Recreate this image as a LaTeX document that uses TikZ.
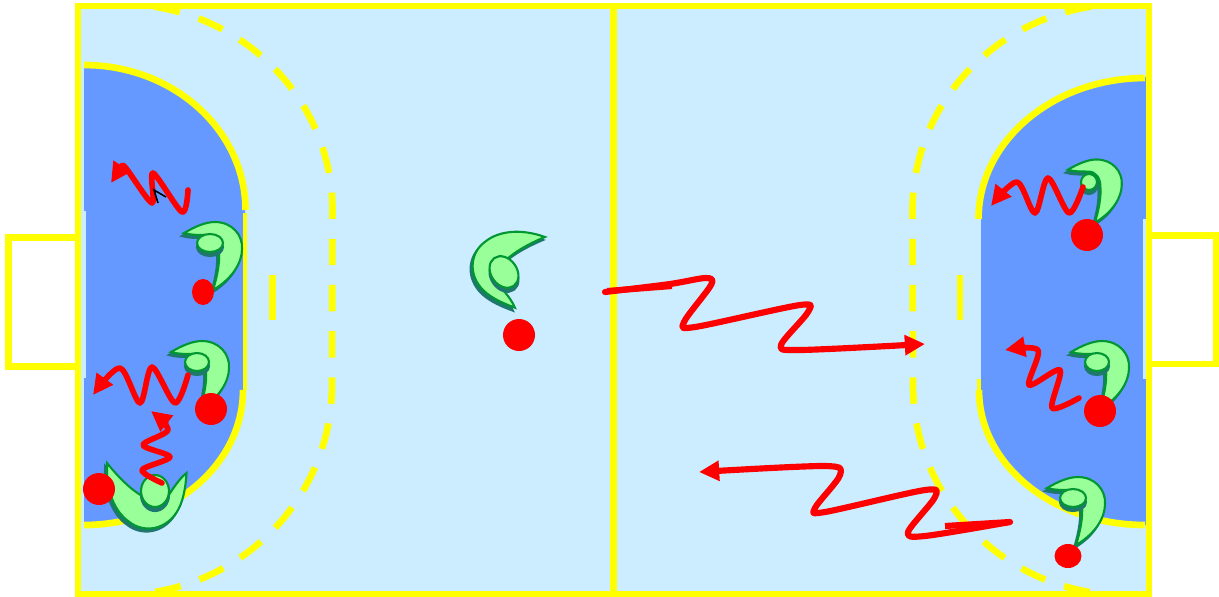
\documentclass[tikz,border=0pt]{standalone}
\definecolor{courtyellow}{RGB}{255,255,0}
\definecolor{courtlight}{RGB}{204,236,255}
\definecolor{courtblue}{RGB}{102,153,255}
\definecolor{playerlight}{RGB}{153,255,153}
\definecolor{playerline}{RGB}{0,150,50}
\definecolor{playershade}{RGB}{30,120,110}
\definecolor{ballred}{RGB}{255,0,0}
\usetikzlibrary{arrows.meta}
\tikzset{
  courtline/.style={draw=courtyellow,line width=3.8pt},
  thinline/.style={draw=courtyellow,line width=2.6pt},
  dashline/.style={draw=courtyellow,line width=3.8pt,dash pattern=on 15pt off 11.3pt,dash phase=24pt},
  pass/.style={draw=ballred,line width=#1,line cap=round,line join=round,
               -{Triangle[length=11.5pt,width=11pt]}},
  pass/.default=3.2pt,
  ball/.style={fill=ballred},
  shade/.style={fill=playershade,draw=playershade,line width=1.2pt},
  skin/.style={fill=playerlight,draw=playerline,line width=1.2pt},
}
\newcommand{\playerbody}{(-26,-10) .. controls (-14,-17) and (-4,-21) .. (5,-21)
  .. controls (22,-21) and (33,-8) .. (32,6) .. controls (32,20) and (22,36) .. (3,47)
  .. controls (7,34) and (10,20) .. (9,8) .. controls (9,-1) and (4,-8) .. (-4,-8)
  .. controls (-12,-8) and (-20,-8) .. (-26,-10) -- cycle}
\begin{document}
\begin{tikzpicture}[x=0.02cm,y=-0.02cm]
  \useasboundingbox (0,0) rectangle (1219,596);
  \fill[courtlight] (78,6) rectangle (1149,594);

  % goal areas
  \fill[courtblue] (84,65) arc[start angle=-90,end angle=0,x radius=161,y radius=145]
    -- (245,390) arc[start angle=0,end angle=90,x radius=161,y radius=135] -- cycle;
  \fill[courtlight] (81,211) rectangle (86,378);
  \fill[courtblue] (1146,77) arc[start angle=-90,end angle=-180,x radius=165,y radius=142]
    -- (981,390) arc[start angle=180,end angle=90,x radius=165,y radius=135] -- cycle;
  \fill[courtlight] (1143,219) rectangle (1146,379);

  \draw[courtline] (84,65) arc[start angle=-90,end angle=0,x radius=161.5,y radius=145];
  \draw[thinline] (245,213) -- (245,390);
  \draw[courtline] (243,390) arc[start angle=0,end angle=90,x radius=159,y radius=135];
  \draw[courtline] (1145,78) arc[start angle=-90,end angle=-180,x radius=166.5,y radius=141];
  \draw[thinline] (979,379) -- (979,390);
  \draw[courtline] (979,390) arc[start angle=180,end angle=90,x radius=166,y radius=135];

  % free throw lines
  \draw[dashline] (150,6) arc[start angle=-82,end angle=0,x radius=212,y radius=206]
    -- (332,385) arc[start angle=0,end angle=82,x radius=213,y radius=210];
  \draw[dashline] (1095,6) arc[start angle=-98,end angle=-180,x radius=212,y radius=206]
    -- (913,385) arc[start angle=180,end angle=98,x radius=212,y radius=210];
  \draw[courtline] (272.5,275) -- (272.5,320);
  \draw[courtline] (960,275) -- (960,320);

  % court and goals
  \draw[courtline] (78,6) rectangle (1149,594);
  \draw[courtline] (613.5,6) -- (613.5,594);
  \draw[courtline] (78,237.5) -- (8.5,237.5) -- (8.5,366.5) -- (78,366.5);
  \draw[courtline] (1149,235.5) -- (1216,235.5) -- (1216,364) -- (1149,364);

  % players
  \foreach \x/\y/\r/\s/\hx/\hy/\ha/\hb/\ht in {
      504/276/130/1.2/504/272/17/13/-55,
      210/243/0/1/210/243/13/9/0,
      197/362/0/1/197/362/12/9/0,
      158/493/-124/1.25/155/491/16/14/90,
      1092/179/0/0.93/1089/182/8/8/0,
      1097/362/0/1/1097/362/12/9/0,
      1073/498/0/1/1073/498/13/9/0}{
    \draw[shade,shift={(\x-2,\y+3)},rotate=\r,scale=\s] \playerbody;
    \draw[skin,shift={(\x,\y)},rotate=\r,scale=\s] \playerbody;
    \draw[shade,shift={(\hx,\hy+4)},rotate=\ht] (0,0) ellipse[x radius=\ha,y radius=\hb];
    \draw[skin,shift={(\hx,\hy)},rotate=\ht] (0,0) ellipse[x radius=\ha,y radius=\hb];
  }

  % balls
  \foreach \x/\y/\ra/\rb in {519/335/16/16, 203/292/11/13, 211/409/16/16, 99/489/16/16,
      1087/235/16/16, 1100/411/16/16, 1068/556/13.5/12}{
    \fill[ball] (\x,\y) ellipse[x radius=\ra,y radius=\rb];
  }

  % passes
  \draw[pass=3.5pt] plot[smooth,tension=0.5] coordinates {(605,292) (670,284) (706,278) (711,285)
    (684,322) (695,327) (800,305) (808,312) (781,345) (800,350) (925,344)};
  \draw[draw=ballred,line width=3.5pt] (607,291) -- (672,286);
  \draw[pass=3.5pt] plot[smooth,tension=0.5] coordinates {(1010,522) (925,536) (908,532) (935,497)
    (925,490) (825,512) (815,508) (840,475) (825,466) (699,472)};
  \draw[draw=ballred,line width=3.5pt] (945,526) -- (1010,522);
  \draw[pass] plot[smooth,tension=0.5] coordinates {(188,190) (182,212) (153,173) (152,203)
    (125,167) (120,170) (111,183)};
  \draw[pass] plot[smooth,tension=0.5] coordinates {(188,375) (175,403) (152,367) (140,403)
    (120,368) (93,395)};
  \draw[pass] plot[smooth,tension=0.5] coordinates {(162,483) (142,470) (170,457) (143,445)
    (168,430) (151,411)};
  \draw[pass] plot[smooth,tension=0.5] coordinates {(1083,187) (1069,213) (1048,178) (1035,213)
    (1017,182) (991,206)};
  \draw[pass] plot[smooth,tension=0.5] coordinates {(1079,398) (1052,408) (1060,370) (1029,385)
    (1038,350) (1005,350)};

  % cursor
  \draw[black,line width=0.9pt] (166,197) -- (154,190) -- (158,203);
\end{tikzpicture}
\end{document}
